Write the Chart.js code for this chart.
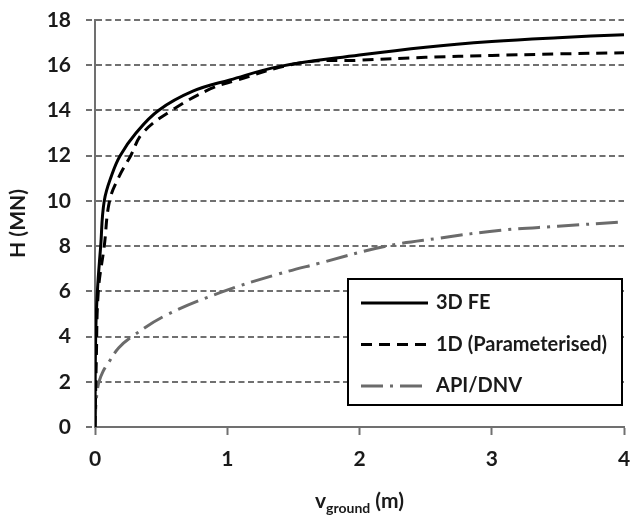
<!DOCTYPE html>
<html>
<head>
<meta charset="utf-8">
<script src="https://cdn.jsdelivr.net/npm/chart.js@4"></script>
<style>
  html, body { margin: 0; padding: 0; background: #fff; }
  #wrap { width: 632px; height: 522px; }
</style>
</head>
<body>
<div id="wrap"><canvas id="hChart" width="632" height="522"></canvas></div>
<script>
// lateral load H vs ground displacement
const feDisp = [0, 0.005, 0.018, 0.043, 0.07, 0.13, 0.19, 0.31, 0.48, 0.74, 1.02, 1.4, 2.0, 2.5, 3.0, 3.5, 4.0];
const feLoad = [0, 4, 6, 8, 10, 11.2, 12, 13, 14, 14.85, 15.35, 15.95, 16.45, 16.8, 17.05, 17.22, 17.35];

const paramDisp = [0, 0.01, 0.025, 0.07, 0.11, 0.18, 0.27, 0.36, 0.58, 0.87, 1.05, 1.55, 2.0, 2.5, 3.0, 3.5, 4.0];
const paramLoad = [0, 3, 6, 8, 10, 11.05, 12, 13, 14, 14.95, 15.3, 16.1, 16.22, 16.35, 16.43, 16.5, 16.55];

const apiDisp = [0, 0.005, 0.015, 0.03, 0.06, 0.1, 0.18, 0.28, 0.54, 0.95, 1.36, 1.7, 2.18, 2.6, 3.07, 3.5, 4.0];
const apiLoad = [0, 0.8, 1.5, 2.0, 2.45, 2.83, 3.5, 4.0, 4.95, 5.95, 6.72, 7.25, 7.97, 8.35, 8.7, 8.88, 9.07];

const seriesNames = ['3D FE', '1D (Parameterised)', 'API/DNV'];
const xTicks = [0, 1, 2, 3, 4];
const yTicks = [0, 2, 4, 6, 8, 10, 12, 14, 16, 18];

const FONT = 'Lato, "Open Sans", sans-serif';
const GRAY = '#707070';

function pts(xs, ys) {
  return xs.map((x, i) => ({ x: x, y: ys[i] }));
}

// boxed legend sitting inside the plot
const boxLegend = {
  id: 'boxLegend',
  afterDatasetsDraw(chart) {
    const ctx = chart.ctx;
    const bx = 348, by = 279, bw = 274, bh = 126;
    ctx.save();
    ctx.fillStyle = '#fff';
    ctx.fillRect(bx, by, bw, bh);
    ctx.lineWidth = 2;
    ctx.strokeStyle = '#000';
    ctx.strokeRect(bx, by, bw, bh);
    chart.data.datasets.forEach((ds, i) => {
      const y = by + 24 + i * 41.5;
      ctx.beginPath();
      ctx.setLineDash(ds.borderDash || []);
      ctx.lineWidth = ds.borderWidth;
      ctx.strokeStyle = ds.borderColor;
      ctx.moveTo(bx + 13, y);
      ctx.lineTo(bx + 80, y);
      ctx.stroke();
      ctx.setLineDash([]);
      ctx.fillStyle = '#1a1a1a';
      ctx.font = 'bold 20px ' + FONT;
      ctx.textBaseline = 'middle';
      ctx.textAlign = 'left';
      ctx.fillText(ds.label, bx + 88, y);
    });
    ctx.restore();
  }
};

// x axis title with subscript
const xTitle = {
  id: 'xTitle',
  afterDraw(chart) {
    const ctx = chart.ctx;
    const a = chart.chartArea;
    const big = 'bold 21px ' + FONT, small = 'bold 14px ' + FONT;
    ctx.save();
    ctx.fillStyle = '#1a1a1a';
    ctx.textBaseline = 'alphabetic';
    ctx.font = big;
    const w1 = ctx.measureText('v').width;
    const w3 = ctx.measureText(' (m)').width;
    ctx.font = small;
    const w2 = ctx.measureText('ground').width;
    let x = (a.left + a.right) / 2 - (w1 + w2 + w3) / 2;
    const base = 508;
    ctx.font = big;
    ctx.fillText('v', x, base);
    x += w1;
    ctx.font = small;
    ctx.fillText('ground', x, base + 5);
    x += w2;
    ctx.font = big;
    ctx.fillText(' (m)', x, base);
    ctx.restore();
  }
};

new Chart(document.getElementById('hChart'), {
  type: 'line',
  data: {
    datasets: [
      {
        label: seriesNames[0],
        data: pts(feDisp, feLoad),
        borderColor: '#000',
        borderWidth: 3
      },
      {
        label: seriesNames[1],
        data: pts(paramDisp, paramLoad),
        borderColor: '#000',
        borderWidth: 3,
        borderDash: [11, 7]
      },
      {
        label: seriesNames[2],
        data: pts(apiDisp, apiLoad),
        borderColor: '#6b6b6b',
        borderWidth: 3,
        borderDash: [22, 7, 3, 7]
      }
    ]
  },
  options: {
    responsive: false,
    animation: false,
    layout: { padding: { left: 0, top: 20, right: 8, bottom: 0 } },
    elements: {
      point: { radius: 0 },
      line: { tension: 0.4, fill: false }
    },
    scales: {
      x: {
        type: 'linear',
        min: 0,
        max: 4,
        afterBuildTicks: (s) => { s.ticks = xTicks.map(v => ({ value: v })); },
        afterFit: (s) => { s.height = 95; s.paddingLeft = 0; s.paddingRight = 0; },
        grid: {
          drawOnChartArea: false,
          drawTicks: true,
          tickLength: 8,
          tickColor: GRAY,
          tickWidth: 2
        },
        border: { color: GRAY, width: 2 },
        ticks: {
          padding: 12,
          color: '#1a1a1a',
          font: { family: FONT, size: 21, weight: 'bold' }
        }
      },
      y: {
        type: 'linear',
        min: 0,
        max: 18,
        afterBuildTicks: (s) => { s.ticks = yTicks.map(v => ({ value: v })); },
        afterFit: (s) => { s.width = 95; s.paddingTop = 0; s.paddingBottom = 0; },
        grid: {
          color: GRAY,
          lineWidth: 2,
          tickLength: 9,
          tickColor: GRAY,
          tickWidth: 2,
          tickBorderDash: [6, 3.5]
        },
        border: { color: GRAY, width: 2, dash: [6, 3.5] },
        title: {
          display: true,
          text: 'H (MN)',
          color: '#1a1a1a',
          font: { family: FONT, size: 21, weight: 'bold' },
          padding: { top: 6, bottom: 0 }
        },
        ticks: {
          padding: 15,
          color: '#1a1a1a',
          font: { family: FONT, size: 21, weight: 'bold' }
        }
      }
    },
    plugins: {
      legend: { display: false },
      tooltip: { enabled: false }
    }
  },
  plugins: [boxLegend, xTitle]
});
</script>
</body>
</html>
